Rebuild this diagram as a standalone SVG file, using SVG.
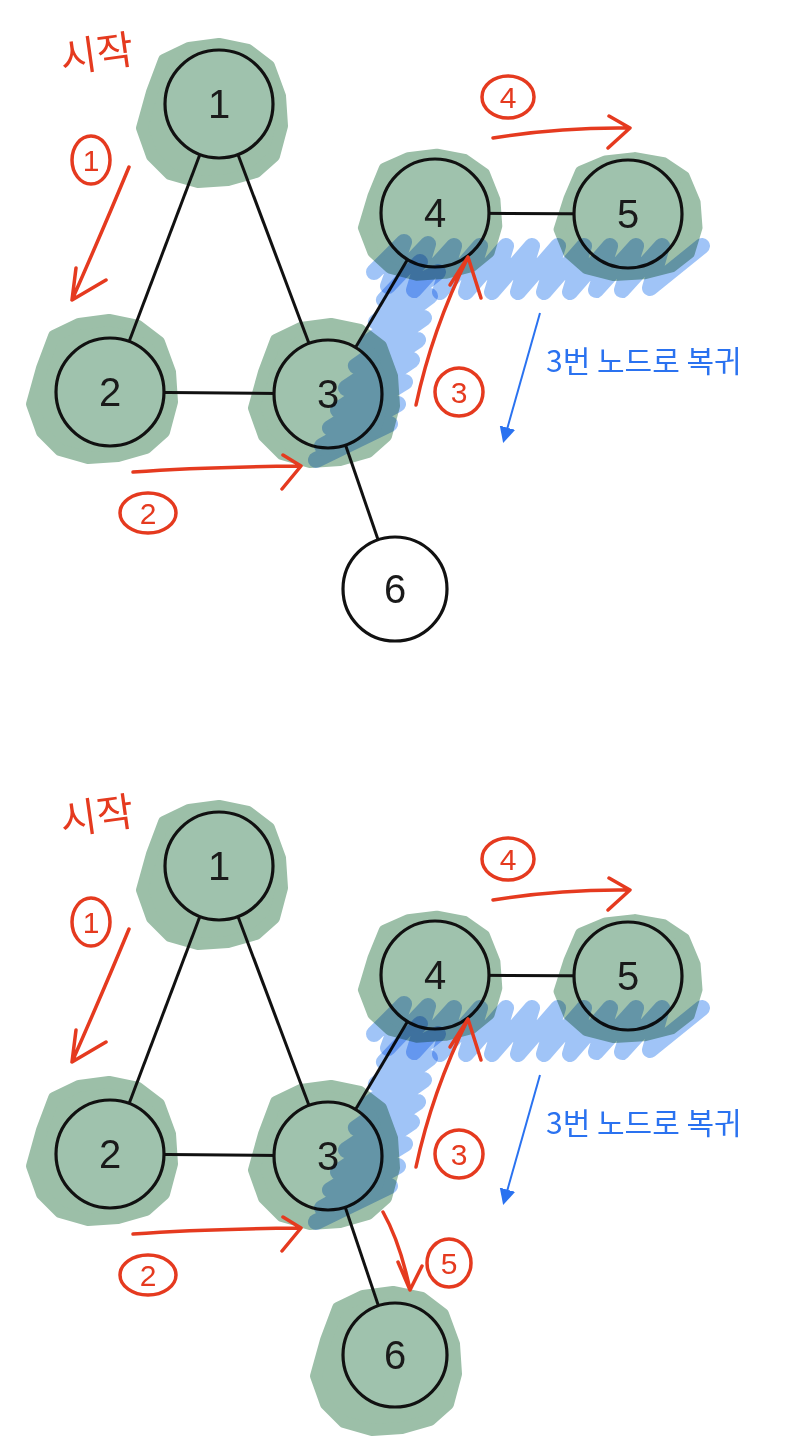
<svg xmlns="http://www.w3.org/2000/svg" width="800" height="1438" viewBox="0 0 800 1438">
<style>
.bg{fill:#ffffff}
.blob{fill:#9cbfa8;stroke:#9cbfa8;stroke-width:12;stroke-linejoin:round}
.edge{stroke:#111;stroke-width:3;fill:none}
.node{fill:#9fc2ad;stroke:#111;stroke-width:3.2}
.node.white{fill:#ffffff}
.lbl{font-family:"Liberation Sans","DejaVu Sans",sans-serif;font-size:40px;fill:#1a1a1a;text-anchor:middle}
.red{stroke:#e53a1f;stroke-width:3.5;fill:none;stroke-linecap:round;stroke-linejoin:round}
.rtxt{font-family:"Liberation Sans","DejaVu Sans",sans-serif;font-size:30px;fill:#e53a1f;text-anchor:middle}
.start{font-family:"Noto Sans CJK KR",sans-serif;font-size:40px;fill:#e53a1f;text-anchor:middle}
.blue{stroke:#96bef7;stroke-width:16;fill:none;stroke-linecap:round;stroke-linejoin:round;opacity:0.9;mix-blend-mode:multiply}
.bline{stroke:#2a72f0;stroke-width:2;fill:none}
.btxt{font-family:"Noto Sans CJK KR",sans-serif;font-size:30px;fill:#2a72f0}
</style>
<defs>
<path id="scrib" d="M-62,-18 L-50,-50 L-25,-62 L5,-66 L34,-60 L55,-44 L66,-14 L68,16 L60,46 L42,62 L14,70 L-16,72 L-44,64 L-62,46 L-72,18 Z"/>
<path id="bandH" d="M374,272 L404,242 L388,286 L428,244 L414,290 L454,246 L440,292 L480,246 L466,292 L506,246 L492,292 L532,246 L518,292 L558,246 L544,292 L584,246 L570,292 L610,246 L596,290 L636,246 L622,290 L662,246 L650,288 L702,246"/>
<path id="bandD" d="M316,460 L390,424 L322,446 L398,404 L330,428 L405,382 L338,410 L412,360 L346,388 L418,340 L356,366 L424,318 L366,344 L430,296 L376,322 L438,272 L384,300 L420,262"/>
<marker id="bhead" viewBox="0 0 10 10" refX="8" refY="5" markerWidth="8" markerHeight="8" orient="auto"><path d="M0,0 L10,5 L0,10 Z" fill="#2a72f0"/></marker>
</defs>
<rect class="bg" x="0" y="0" width="800" height="1438"/>

<g id="top">
  <g id="top-scribbles">
    <use href="#scrib" class="blob" transform="translate(214,110)"/>
    <use href="#scrib" class="blob" transform="translate(104,386)"/>
    <use href="#scrib" class="blob" transform="translate(326,390)"/>
    <use href="#scrib" class="blob" transform="translate(432,212) scale(0.95,0.88)"/>
    <use href="#scrib" class="blob" transform="translate(630,214) scale(0.98,0.86)"/>
  </g>
  <g id="top-connectors">
    <line class="edge" x1="219" y1="104" x2="110" y2="392"/>
    <line class="edge" x1="219" y1="104" x2="328" y2="394"/>
    <line class="edge" x1="110" y1="392" x2="328" y2="394"/>
    <line class="edge" x1="328" y1="394" x2="435" y2="213"/>
    <line class="edge" x1="435" y1="213" x2="628" y2="214"/>
    <line class="edge" x1="328" y1="394" x2="395" y2="589"/>
  </g>
  <g id="top-n1"><circle class="node" cx="219" cy="104" r="54"/><text class="lbl" x="219" y="118">1</text></g>
  <g id="top-n2"><circle class="node" cx="110" cy="392" r="54"/><text class="lbl" x="110" y="406">2</text></g>
  <g id="top-n3"><circle class="node" cx="328" cy="394" r="54"/><text class="lbl" x="328" y="408">3</text></g>
  <g id="top-n4"><circle class="node" cx="435" cy="213" r="54"/><text class="lbl" x="435" y="227">4</text></g>
  <g id="top-n5"><circle class="node" cx="628" cy="214" r="54"/><text class="lbl" x="628" y="228">5</text></g>
  <g id="top-n6"><circle class="node white" cx="395" cy="589" r="52"/><text class="lbl" x="395" y="603">6</text></g>
  <g id="top-backtrack">
    <use href="#bandH" class="blue"/>
    <use href="#bandD" class="blue"/>
  </g>
  <g id="top-annot">
    <text class="start" x="97" y="68" transform="rotate(-8 97 55)">시작</text>
    <ellipse class="red" cx="91" cy="160" rx="19" ry="24"/><text class="rtxt" x="91" y="171">1</text>
    <path class="red" d="M129,167 Q105,225 72,300 M76,268 L72,300 L106,280"/>
    <ellipse class="red" cx="148" cy="513" rx="28" ry="20"/><text class="rtxt" x="148" y="524">2</text>
    <path class="red" d="M133,472 Q200,467 300,466 M283,455 L301,466 L282,489"/>
    <ellipse class="red" cx="459" cy="392" rx="24" ry="24"/><text class="rtxt" x="459" y="403">3</text>
    <path class="red" d="M416,405 Q432,330 468,257 M450,285 L468,257 L481,298"/>
    <ellipse class="red" cx="508" cy="97" rx="26" ry="21"/><text class="rtxt" x="508" y="108">4</text>
    <path class="red" d="M493,138 Q560,127 630,128 M609,116 L630,128 L608,148"/>
    <line class="bline" x1="540" y1="313" x2="504" y2="440" marker-end="url(#bhead)"/>
    <text class="btxt" x="546" y="372">3번 노드로 복귀</text>
  </g>
</g>

<g id="bottom" transform="translate(0,762)">
  <g id="bottom-scribbles">
    <use href="#scrib" class="blob" transform="translate(214,110)"/>
    <use href="#scrib" class="blob" transform="translate(104,386)"/>
    <use href="#scrib" class="blob" transform="translate(326,390)"/>
    <use href="#scrib" class="blob" transform="translate(432,212) scale(0.95,0.88)"/>
    <use href="#scrib" class="blob" transform="translate(630,214) scale(0.98,0.86)"/>
    <use href="#scrib" class="blob" transform="translate(388,596)"/>
  </g>
  <g id="bottom-connectors">
    <line class="edge" x1="219" y1="104" x2="110" y2="392"/>
    <line class="edge" x1="219" y1="104" x2="328" y2="394"/>
    <line class="edge" x1="110" y1="392" x2="328" y2="394"/>
    <line class="edge" x1="328" y1="394" x2="435" y2="213"/>
    <line class="edge" x1="435" y1="213" x2="628" y2="214"/>
    <line class="edge" x1="328" y1="394" x2="395" y2="593"/>
  </g>
  <g id="bottom-n1"><circle class="node" cx="219" cy="104" r="54"/><text class="lbl" x="219" y="118">1</text></g>
  <g id="bottom-n2"><circle class="node" cx="110" cy="392" r="54"/><text class="lbl" x="110" y="406">2</text></g>
  <g id="bottom-n3"><circle class="node" cx="328" cy="394" r="54"/><text class="lbl" x="328" y="408">3</text></g>
  <g id="bottom-n4"><circle class="node" cx="435" cy="213" r="54"/><text class="lbl" x="435" y="227">4</text></g>
  <g id="bottom-n5"><circle class="node" cx="628" cy="214" r="54"/><text class="lbl" x="628" y="228">5</text></g>
  <g id="bottom-n6"><circle class="node" cx="395" cy="593" r="52"/><text class="lbl" x="395" y="607">6</text></g>
  <g id="bottom-backtrack">
    <use href="#bandH" class="blue"/>
    <use href="#bandD" class="blue"/>
  </g>
  <g id="bottom-annot">
    <text class="start" x="97" y="68" transform="rotate(-8 97 55)">시작</text>
    <ellipse class="red" cx="91" cy="160" rx="19" ry="24"/><text class="rtxt" x="91" y="171">1</text>
    <path class="red" d="M129,167 Q105,225 72,300 M76,268 L72,300 L106,280"/>
    <ellipse class="red" cx="148" cy="513" rx="28" ry="20"/><text class="rtxt" x="148" y="524">2</text>
    <path class="red" d="M133,472 Q200,467 300,466 M283,455 L301,466 L282,489"/>
    <ellipse class="red" cx="459" cy="392" rx="24" ry="24"/><text class="rtxt" x="459" y="403">3</text>
    <path class="red" d="M416,405 Q432,330 468,257 M450,285 L468,257 L481,298"/>
    <ellipse class="red" cx="508" cy="97" rx="26" ry="21"/><text class="rtxt" x="508" y="108">4</text>
    <path class="red" d="M493,138 Q560,127 630,128 M609,116 L630,128 L608,148"/>
    <ellipse class="red" cx="449" cy="501" rx="22" ry="24"/><text class="rtxt" x="449" y="512">5</text>
    <path class="red" d="M383,450 Q400,480 410,528 M398,500 L410,528 L422,504"/>
    <line class="bline" x1="540" y1="313" x2="504" y2="440" marker-end="url(#bhead)"/>
    <text class="btxt" x="546" y="372">3번 노드로 복귀</text>
  </g>
</g>
</svg>
